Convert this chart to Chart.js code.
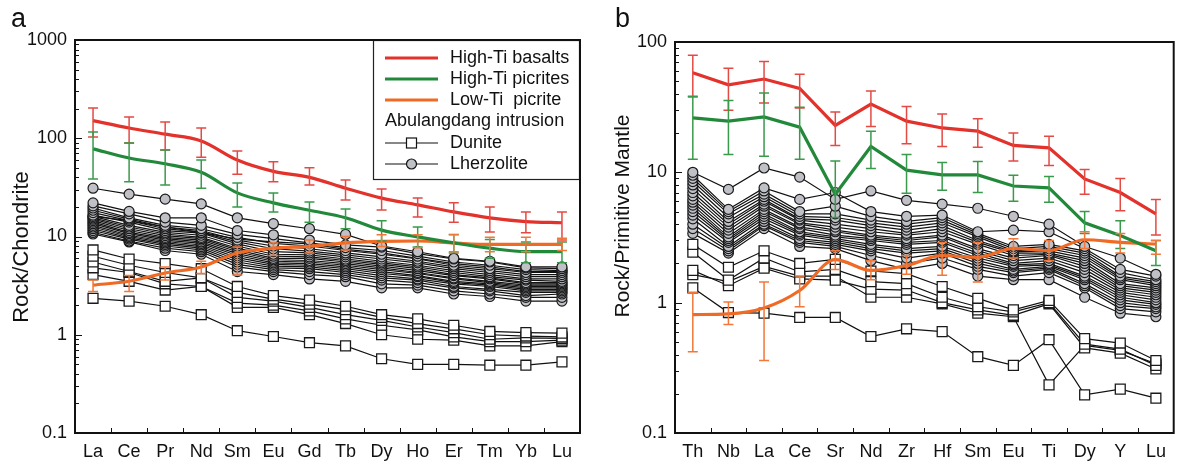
<!DOCTYPE html>
<html><head><meta charset="utf-8">
<script src="https://cdn.jsdelivr.net/npm/chart.js@4/dist/chart.umd.min.js"></script>
<style>
html,body{margin:0;padding:0;background:#fff;}
#wrap{position:relative;width:1182px;height:464px;overflow:hidden;}
#ca{position:absolute;left:0;top:0;}
#cb{position:absolute;left:590px;top:0;}
</style></head>
<body><div id="wrap"><canvas id="ca" width="590" height="464"></canvas><canvas id="cb" width="592" height="464"></canvas></div>
<script>
// ---------- categories & ticks ----------
const REE = ['La','Ce','Pr','Nd','Sm','Eu','Gd','Tb','Dy','Ho','Er','Tm','Yb','Lu'];
const SPIDER = ['Th','Nb','La','Ce','Sr','Nd','Zr','Hf','Sm','Eu','Ti','Dy','Y','Lu'];
const Y_DECADES_A = [0.1, 1, 10, 100, 1000];
const Y_DECADES_B = [0.1, 1, 10, 100];

// ---------- panel a : chondrite-normalised REE ----------
const RED_A    = [151, 127, 110, 94, 60, 46, 40, 31, 24.6, 21, 17.8, 15.5, 14.2, 13.8];
const RED_A_LO = [103, 89.5, 76, 64, 43, 36, 33.4, 23.5, 18.6, 15.8, 14, 11.1, 10.9, 9.2];
const RED_A_HI = [203, 165, 146, 127, 74, 57.5, 50, 37.6, 30.4, 24.6, 22, 20, 17.8, 17.8];
const GREEN_A    = [78, 63, 55, 45, 27.8, 22, 18.5, 15.5, 11.6, 9.9, 8.6, 7.6, 7.0, 7.0];
const GREEN_A_LO = [38.5, 36, 33.4, 31, 20, 17.8, 14, 12, 9, 7.8, 6.8, 6, 5.4, 5.4];
const GREEN_A_HI = [116, 89.5, 76, 60, 35, 27.7, 22.5, 19, 14.5, 12.5, 10.5, 9.3, 8.8, 8.8];
const ORANGE_A    = [3.2, 3.5, 4.25, 4.9, 6.8, 7.6, 7.95, 8.6, 8.9, 9.0, 8.6, 8.3, 8.3, 8.3];
const ORANGE_A_LO = [2.75, 2.75, 3.6, 4.2, 4.06, 6.4, 6.8, 7.3, 7.9, 7.7, 7.0, 7.0, 7.0, 7.2];
const ORANGE_A_HI = [3.6, 4.0, 4.9, 5.6, 7.8, 8.6, 9.2, 10.0, 10.4, 10.4, 10.4, 9.8, 9.8, 9.6];

const LHERZ_A = [
  [31, 27, 24, 21.5, 15.5, 13.5, 12, 10.5, 8, 7, 6, 5.6, 4.9, 4.9],
  [22, 18, 15.5, 15.5, 11.5, 10.4, 9.2, 8.2, 7.8, 6.7, 5.9, 5.5, 4.8, 4.7],
  [20.5, 17, 14, 13, 10.5, 9.5, 8.6, 7.7, 7.2, 6.3, 5.5, 5.1, 4.6, 4.5],
  [19.5, 15.5, 13, 12, 9.8, 8.5, 8, 7.2, 6.6, 5.9, 5.1, 4.7, 4.3, 4.3],
  [18.5, 15, 12.5, 11.5, 9.2, 8, 7.5, 6.8, 6.2, 5.6, 4.9, 4.5, 4.1, 4.1],
  [17.5, 14.5, 12, 11, 8.8, 7.5, 7.1, 6.5, 5.9, 5.4, 4.7, 4.3, 3.9, 3.9],
  [16.5, 14, 11.5, 10.8, 8.4, 7, 6.8, 6.2, 5.6, 5.1, 4.5, 4.1, 3.7, 3.7],
  [16, 13, 11, 10.3, 8, 6.6, 6.5, 5.9, 5.4, 4.9, 4.3, 3.9, 3.6, 3.5],
  [15.5, 12.5, 10.6, 9.8, 7.6, 6.3, 6.2, 5.7, 5.2, 4.7, 4.1, 3.8, 3.4, 3.4],
  [15, 12, 10.2, 9.5, 7.3, 6, 6, 5.5, 5, 4.5, 4, 3.7, 3.3, 3.3],
  [14.5, 11.5, 9.8, 9.2, 7, 5.8, 5.7, 5.3, 4.8, 4.3, 3.8, 3.5, 3.2, 3.2],
  [14, 11, 9.5, 8.8, 6.7, 5.6, 5.5, 5.1, 4.6, 4.2, 3.7, 3.4, 3.1, 3.1],
  [13.5, 10.7, 9.2, 8.5, 6.4, 5.4, 5.3, 4.9, 4.4, 4, 3.5, 3.3, 3, 3],
  [13, 10.3, 8.9, 8.2, 6.1, 5.2, 5.1, 4.7, 4.2, 3.9, 3.4, 3.2, 2.9, 2.9],
  [12.5, 10, 8.6, 7.9, 5.8, 5, 4.9, 4.5, 4, 3.7, 3.3, 3.1, 2.8, 2.8],
  [12, 9.7, 8.3, 7.6, 5.5, 4.8, 4.7, 4.3, 3.8, 3.6, 3.1, 2.9, 2.7, 2.7],
  [11.5, 9.4, 8, 7.3, 5.2, 4.6, 4.4, 4.1, 3.6, 3.4, 3, 2.8, 2.5, 2.6],
  [11, 9, 7.6, 7, 4.9, 4.4, 4.1, 3.9, 3.3, 3.2, 2.8, 2.6, 2.4, 2.4],
  [10.6, 8.8, 7.2, 6.6, 4.4, 4.1, 3.7, 3.5, 3, 3, 2.6, 2.45, 2.2, 2.2],
  [16, 14.5, 12.5, 11, 9.4, 8.8, 8.4, 7.4, 6.8, 6, 5.3, 4.9, 4.4, 4.4]
];
const DUNITE_A = [
  [7.3, 5.9, 5.3, 4.7, 3.1, 2.5, 2.25, 1.95, 1.6, 1.45, 1.25, 1.08, 1.05, 1.04],
  [6.3, 5.1, 4.3, 3.8, 2.7, 2.3, 2.05, 1.8, 1.5, 1.3, 1.15, 1.0, 0.97, 0.95],
  [5.5, 4.4, 3.5, 3.8, 2.4, 2.2, 1.9, 1.6, 1.4, 1.2, 1.05, 0.9, 0.93, 0.92],
  [4.8, 4.3, 3.3, 3.1, 2.1, 2.0, 1.75, 1.45, 1.25, 1.12, 0.95, 0.85, 0.85, 0.88],
  [4.1, 3.5, 2.85, 3.1, 1.9, 1.9, 1.6, 1.3, 1.0, 0.9, 0.88, 0.77, 0.77, 0.85],
  [2.35, 2.2, 1.95, 1.6, 1.1, 0.96, 0.83, 0.77, 0.57, 0.5, 0.5, 0.49, 0.49, 0.53]
];

// ---------- panel b : primitive-mantle-normalised ----------
const RED_B    = [58, 47, 52, 44, 22.9, 33.4, 24.7, 21.9, 20.7, 16.1, 15.4, 8.9, 7.0, 4.8];
const RED_B_LO = [37.9, 29.9, 34, 31.2, 16.1, 22.5, 16.6, 15.8, 15.6, 12.2, 11.3, 6.8, 5.07, 3.3];
const RED_B_HI = [79, 63, 70.8, 56.6, 29, 42, 32, 28, 25.8, 20, 18.9, 10.5, 8.95, 6.2];
const GREEN_B    = [26.2, 24.7, 26.6, 22.2, 6.8, 15.8, 10.4, 9.55, 9.55, 7.85, 7.6, 4.1, 3.27, 2.5];
const GREEN_B_LO = [12.6, 13.7, 13.3, 12.6, 4.5, 10.7, 6.9, 7.3, 7.0, 6.0, 5.9, 3.4, 2.6, 1.93];
const GREEN_B_HI = [38.3, 35.5, 40.6, 31.6, 12.2, 20.7, 13.7, 11.9, 12.1, 9.5, 9.3, 5.0, 4.25, 3.0];
const ORANGE_B    = [0.81, 0.82, 0.91, 1.24, 2.14, 1.77, 1.93, 2.3, 2.23, 2.61, 2.51, 3.04, 2.9, 2.82];
const ORANGE_B_LO = [0.42, 0.68, 0.36, 0.93, 1.8, 1.5, 1.65, 1.62, 1.44, 2.2, 2.1, 2.6, 2.4, 2.35];
const ORANGE_B_HI = [1.2, 1.01, 1.44, 1.6, 2.5, 2.1, 2.3, 2.9, 2.9, 3.1, 3.0, 3.5, 3.4, 3.0];

const LHERZ_B = [
  [10, 7.4, 10.8, 9.2, 6.2, 7.2, 6.1, 5.7, 5.3, 4.6, 4.0, 2.7, 2.2, 1.65],
  [9.5, 5.2, 7.6, 6.2, 7.0, 5.0, 4.6, 4.7, 3.5, 3.6, 3.5, 2.6, 1.8, 1.6],
  [9, 5.0, 7.2, 5.0, 5.5, 4.6, 4.2, 4.5, 3.4, 2.7, 2.8, 2.5, 1.7, 1.5],
  [8.5, 4.8, 6.8, 4.8, 4.8, 4.3, 4.0, 4.3, 3.3, 2.6, 2.7, 2.4, 1.6, 1.45],
  [8, 4.5, 6.5, 4.6, 4.5, 4.1, 3.8, 4.1, 3.2, 2.5, 2.6, 2.3, 1.55, 1.4],
  [7.5, 4.2, 6.2, 4.4, 4.3, 3.9, 3.6, 3.9, 3.0, 2.45, 2.5, 2.2, 1.5, 1.35],
  [7, 4.0, 6.0, 4.3, 4.0, 3.7, 3.4, 3.7, 2.9, 2.4, 2.4, 2.1, 1.4, 1.3],
  [6.6, 3.8, 5.7, 4.1, 3.8, 3.5, 3.3, 3.5, 2.8, 2.3, 2.35, 2.0, 1.35, 1.25],
  [6.2, 3.6, 5.5, 4.0, 3.6, 3.3, 3.1, 3.3, 2.6, 2.2, 2.3, 1.9, 1.3, 1.2],
  [5.9, 3.4, 5.2, 3.8, 3.5, 3.2, 3.0, 3.2, 2.5, 2.1, 2.2, 1.8, 1.25, 1.15],
  [5.6, 3.2, 5.0, 3.7, 3.3, 3.1, 2.9, 3.0, 2.4, 2.0, 2.1, 1.7, 1.2, 1.1],
  [5.3, 3.1, 4.8, 3.5, 3.2, 3.0, 2.8, 2.9, 2.3, 1.95, 2.0, 1.6, 1.15, 1.05],
  [5.0, 3.0, 4.6, 3.4, 3.1, 2.8, 2.6, 2.7, 2.2, 1.9, 1.95, 1.55, 1.1, 1.0],
  [4.7, 2.9, 4.4, 3.3, 3.0, 2.7, 2.5, 2.6, 2.1, 1.8, 1.9, 1.5, 1.05, 0.97],
  [4.4, 2.7, 4.2, 3.1, 2.9, 2.6, 2.4, 2.5, 2.0, 1.75, 1.85, 1.4, 1.0, 0.93],
  [4.0, 2.6, 4.0, 3.0, 2.8, 2.5, 2.2, 2.4, 1.9, 1.7, 1.8, 1.35, 0.95, 0.9],
  [3.7, 2.5, 3.9, 2.9, 2.7, 2.3, 2.0, 2.2, 1.8, 1.6, 1.7, 1.3, 0.9, 0.85],
  [3.4, 2.4, 3.7, 2.7, 2.6, 2.1, 1.8, 2.0, 1.6, 1.5, 1.5, 1.1, 0.83, 0.78]
];
const DUNITE_B = [
  [2.8, 1.87, 2.5, 2.0, 2.15, 1.75, 1.67, 1.33, 1.08, 0.88, 1.04, 0.53, 0.49, 0.36],
  [2.44, 1.49, 2.2, 1.72, 1.8, 1.45, 1.4, 1.1, 0.93, 0.85, 1.0, 0.48, 0.44, 0.33],
  [1.77, 1.35, 1.84, 1.52, 1.49, 1.27, 1.25, 1.0, 0.88, 0.8, 0.98, 0.45, 0.41, 0.31],
  [1.64, 1.45, 1.9, 1.6, 1.6, 1.1, 1.1, 0.98, 0.83, 0.78, 0.234, 0.47, 0.43, 0.34],
  [1.3, 0.84, 0.83, 0.77, 0.77, 0.55, 0.63, 0.6, 0.385, 0.33, 0.52, 0.196, 0.217, 0.185]
];

const LEGEND_LABELS = ['High-Ti basalts', 'High-Ti picrites', 'Low-Ti  picrite', 'Abulangdang intrusion', 'Dunite', 'Lherzolite'];

// ---------- styles ----------
const FONT = '"Liberation Sans", Arial, Helvetica, sans-serif';
const C_RED = '#e3312b', C_GREEN = '#23893a', C_ORANGE = '#ef6a24';
const C_RED_E = '#e44a44', C_GREEN_E = '#3a9a4c', C_ORANGE_E = '#f0783a';
const GREY = '#bfc1c7', INK = '#111111';

function allTicks(dec) {
  const out = [];
  dec.forEach((d, i) => {
    out.push(d);
    if (i < dec.length - 1) for (let k = 2; k <= 9; k++) out.push(+(d * k).toPrecision(3));
  });
  return out;
}

const errorBars = {
  id: 'errorBars',
  afterDatasetsDraw(chart) {
    const { ctx, scales: { x, y } } = chart;
    chart.data.datasets.forEach(ds => {
      if (!ds.errLo) return;
      ctx.save();
      ctx.strokeStyle = ds.errColor; ctx.lineWidth = 1.5;
      ds.data.forEach((v, i) => {
        const px = x.getPixelForValue(i);
        const y1 = y.getPixelForValue(ds.errLo[i]);
        const y2 = y.getPixelForValue(ds.errHi[i]);
        ctx.beginPath();
        ctx.moveTo(px, y1); ctx.lineTo(px, y2);
        ctx.moveTo(px - 5, y1); ctx.lineTo(px + 5, y1);
        ctx.moveTo(px - 5, y2); ctx.lineTo(px + 5, y2);
        ctx.stroke();
      });
      ctx.restore();
    });
  }
};

function legendPlugin() {
  return {
    id: 'legendBox',
    afterDraw(chart) {
      const { ctx, chartArea: a } = chart;
      const W = 207, H = 140, L = a.right - W, T = a.top;
      ctx.save();
      ctx.fillStyle = '#fff'; ctx.fillRect(L, T, W, H);
      ctx.strokeStyle = '#222'; ctx.lineWidth = 1.2;
      ctx.strokeRect(L + 0.5, T + 0.5, W - 1, H - 1);
      const rows = [18, 39, 60, 81, 103, 124];
      const cols = [C_RED, C_GREEN, C_ORANGE];
      ctx.font = '18px ' + FONT; ctx.textBaseline = 'middle'; ctx.fillStyle = '#111';
      for (let i = 0; i < 3; i++) {
        const yy = T + rows[i];
        ctx.strokeStyle = cols[i]; ctx.lineWidth = 3;
        ctx.beginPath(); ctx.moveTo(L + 12, yy); ctx.lineTo(L + 65, yy); ctx.stroke();
        ctx.fillText(LEGEND_LABELS[i], L + 77, yy);
      }
      ctx.fillText(LEGEND_LABELS[3], L + 12, T + rows[3]);
      for (let i = 4; i < 6; i++) {
        const yy = T + rows[i];
        ctx.strokeStyle = INK; ctx.lineWidth = 1.2;
        ctx.beginPath(); ctx.moveTo(L + 12, yy); ctx.lineTo(L + 65, yy); ctx.stroke();
        const cx = L + 38.5;
        if (i === 4) {
          ctx.fillStyle = '#fff'; ctx.fillRect(cx - 5, yy - 5, 10, 10);
          ctx.strokeRect(cx - 5, yy - 5, 10, 10);
        } else {
          ctx.beginPath(); ctx.arc(cx, yy, 5, 0, Math.PI * 2);
          ctx.fillStyle = GREY; ctx.fill(); ctx.stroke();
        }
        ctx.fillStyle = '#111';
        ctx.fillText(LEGEND_LABELS[i], L + 77, yy);
      }
      ctx.restore();
    }
  };
}

function decoPlugin(dec, letter, letterX, title, titleSize, titleX, titleY) {
  return {
    id: 'deco',
    afterDraw(chart) {
      const { ctx, chartArea: a, scales: { x, y } } = chart;
      ctx.save();
      ctx.strokeStyle = INK; ctx.lineWidth = 1;
      y.ticks.forEach(t => {
        const py = Math.round(y.getPixelForValue(t.value)) + 0.5;
        const len = dec.includes(t.value) ? 7 : 4;
        ctx.beginPath(); ctx.moveTo(a.left, py); ctx.lineTo(a.left + len, py); ctx.stroke();
      });
      for (let i = 0; i < x.ticks.length - 1; i++) {
        const px = Math.round((x.getPixelForTick(i) + x.getPixelForTick(i + 1)) / 2) + 0.5;
        ctx.beginPath(); ctx.moveTo(px, a.bottom); ctx.lineTo(px, a.bottom - 5); ctx.stroke();
      }
      ctx.lineWidth = 2;
      ctx.strokeRect(a.left, a.top, a.right - a.left, a.bottom - a.top);
      ctx.fillStyle = '#111';
      ctx.font = '27px ' + FONT; ctx.textBaseline = 'alphabetic'; ctx.textAlign = 'left';
      ctx.fillText(letter, letterX, 27);
      ctx.translate(titleX, titleY); ctx.rotate(-Math.PI / 2);
      ctx.font = titleSize + 'px ' + FONT; ctx.textAlign = 'center'; ctx.textBaseline = 'middle';
      ctx.fillText(title, 0, 0);
      ctx.restore();
    }
  };
}

function colored(label, data, color, lo, hi, ecolor, smooth) {
  return {
    label, data, borderColor: color, backgroundColor: color, borderWidth: 3.2,
    pointRadius: 0, fill: false,
    cubicInterpolationMode: smooth ? 'monotone' : 'default', tension: 0,
    errLo: lo, errHi: hi, errColor: ecolor
  };
}
function lherz(data) {
  return { label: 'Lherzolite', data, borderColor: INK, borderWidth: 1.2, pointStyle: 'circle',
    pointRadius: 5, pointBackgroundColor: GREY, pointBorderColor: '#1a1a1a', pointBorderWidth: 1.2, fill: false, tension: 0 };
}
function dunite(data) {
  return { label: 'Dunite', data, borderColor: INK, borderWidth: 1.2, pointStyle: 'rect',
    pointRadius: 7, pointBackgroundColor: '#fff', pointBorderColor: '#1a1a1a', pointBorderWidth: 1.3, fill: false, tension: 0 };
}

function makeChart(id, labels, datasets, dec, yWidth, padTop, padRight, plugins) {
  const ticksList = allTicks(dec);
  return new Chart(document.getElementById(id), {
    type: 'line',
    data: { labels, datasets },
    options: {
      responsive: false, animation: false, devicePixelRatio: 1,
      layout: { padding: { top: padTop, right: padRight, left: 0, bottom: 0 } },
      plugins: { legend: { display: false }, tooltip: { enabled: false } },
      scales: {
        x: {
          type: 'category', offset: true,
          grid: { display: false, drawTicks: false }, border: { display: false },
          afterFit: s => { s.height = 464 - 433; },
          ticks: { padding: 8, color: '#111', font: { family: FONT, size: 18 }, autoSkip: false, maxRotation: 0 }
        },
        y: {
          type: 'logarithmic', min: dec[0], max: dec[dec.length - 1],
          grid: { display: false, drawTicks: false }, border: { display: false },
          afterBuildTicks: s => { s.ticks = ticksList.map(v => ({ value: v })); },
          afterFit: s => { s.width = yWidth; },
          ticks: { autoSkip: false, padding: 8, color: '#111', font: { family: FONT, size: 18 },
            callback: v => (dec.includes(v) ? String(v) : '') }
        }
      }
    },
    plugins
  });
}

// panel a
const dsA = [
  colored('High-Ti basalts', RED_A, C_RED, RED_A_LO, RED_A_HI, C_RED_E, true),
  colored('High-Ti picrites', GREEN_A, C_GREEN, GREEN_A_LO, GREEN_A_HI, C_GREEN_E, true),
  colored('Low-Ti picrite', ORANGE_A, C_ORANGE, ORANGE_A_LO, ORANGE_A_HI, C_ORANGE_E, true),
  ...DUNITE_A.map(dunite),
  ...LHERZ_A.map(lherz)
];
makeChart('ca', REE, dsA, Y_DECADES_A, 75, 40, 10,
  [errorBars, legendPlugin(), decoPlugin(Y_DECADES_A, 'a', 11, 'Rock/Chondrite', 22, 22, 247)]);

// panel b
const dsB = [
  colored('High-Ti basalts', RED_B, C_RED, RED_B_LO, RED_B_HI, C_RED_E, false),
  colored('High-Ti picrites', GREEN_B, C_GREEN, GREEN_B_LO, GREEN_B_HI, C_GREEN_E, false),
  colored('Low-Ti picrite', ORANGE_B, C_ORANGE, ORANGE_B_LO, ORANGE_B_HI, C_ORANGE_E, true),
  ...DUNITE_B.map(dunite),
  ...LHERZ_B.map(lherz)
];
makeChart('cb', SPIDER, dsB, Y_DECADES_B, 85, 42, 2,
  [errorBars, decoPlugin(Y_DECADES_B, 'b', 25, 'Rock/Primitive Mantle', 21, 33, 216)]);
</script>
</body></html>
